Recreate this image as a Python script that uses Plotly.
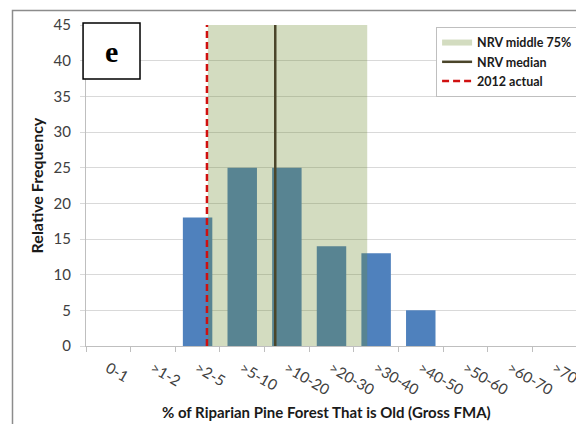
import plotly.graph_objects as go

categories = ["0-1", ">1-2", ">2-5", ">5-10", ">10-20", ">20-30", ">30-40",
              ">40-50", ">50-60", ">60-70", ">70"]
frequency = [0, 0, 18, 25, 25, 14, 13, 5, 0, 0, 0]
# NRV range and markers, in category-index units
nrv_low = 2.23
nrv_high = 5.80
nrv_median = 3.74
actual_2012 = 2.21
y_ticks = [0, 5, 10, 15, 20, 25, 30, 35, 40, 45]

FONT = "Lato"
idx = list(range(len(categories)))

fig = go.Figure()
fig.add_trace(go.Bar(x=idx, y=frequency, width=0.66, marker_color="#4F81BD",
                     marker_line_width=0, showlegend=False, hoverinfo="skip"))
fig.add_trace(go.Scatter(x=[nrv_low, nrv_high, nrv_high, nrv_low, nrv_low],
                         y=[0, 0, 45, 45, 0], fill="toself", mode="none",
                         fillcolor="rgba(108,138,45,0.30)", name="NRV middle 75%"))
fig.add_trace(go.Scatter(x=[nrv_median, nrv_median], y=[0, 45], mode="lines",
                         line=dict(color="#4A452A", width=2.5), name="NRV median"))
fig.add_trace(go.Scatter(x=[actual_2012, actual_2012], y=[0, 45], mode="lines",
                         line=dict(color="#D01010", width=2.5, dash="7px,4px"),
                         name="2012 actual"))

# page body has an 8px margin, so the figure is offset by (8, 8)
fig.update_layout(
    width=576, height=416,
    margin=dict(l=78, r=7, t=17, b=78, autoexpand=False),
    paper_bgcolor="white", plot_bgcolor="white",
    font=dict(family=FONT, color="#404040"),
    bargap=0.34,
    legend=dict(x=0.713, y=0.994, xanchor="left", yanchor="top",
                bgcolor="white", bordercolor="#BFBFBF", borderwidth=1,
                font=dict(family=FONT, size=12.5, color="#1a1a1a", weight="bold"),
                tracegroupgap=0, itemwidth=30),
    xaxis=dict(range=[-0.5, 10.5], tickmode="array", tickvals=idx, ticktext=categories,
               tickangle=30, ticks="", showgrid=False, zeroline=False,
               showline=True, linecolor="#BFBFBF", linewidth=1, ticklabelstandoff=7,
               tickfont=dict(family=FONT, size=15, color="#404040"),
               minor=dict(tick0=-0.5, dtick=1, ticks="outside", ticklen=5,
                          tickcolor="#BFBFBF", showgrid=False)),
    yaxis=dict(range=[0, 45], tickmode="array", tickvals=y_ticks,
               showgrid=True, gridcolor="#D9D9D9", gridwidth=1, zeroline=False,
               showline=True, linecolor="#BFBFBF", linewidth=1,
               ticks="outside", ticklen=5, tickcolor="#D9D9D9", ticklabelstandoff=6,
               tickfont=dict(family=FONT, size=15, color="#404040")),
)

fig.add_annotation(text="Relative Frequency", xref="paper", yref="paper",
                   x=-0.1, y=0.5, xanchor="center", yanchor="middle",
                   textangle=-90, showarrow=False,
                   font=dict(family=FONT, size=16, color="#1a1a1a", weight="bold"))
fig.add_annotation(text="% of Riparian Pine Forest That is Old (Gross FMA)",
                   xref="paper", yref="paper", x=0.49, y=-0.205,
                   xanchor="center", yanchor="middle", showarrow=False,
                   font=dict(family=FONT, size=15, color="#1a1a1a", weight="bold"))

# panel label box
fig.add_shape(type="rect", xref="paper", yref="paper",
              x0=-0.006, x1=0.110, y0=0.832, y1=1.006,
              line=dict(color="black", width=1.5), fillcolor="white", layer="above")
fig.add_annotation(text="<b>e</b>", xref="paper", yref="paper", x=0.052, y=0.917,
                   xanchor="center", yanchor="middle", showarrow=False,
                   font=dict(family="Liberation Serif", size=30, color="black"))

# outer chart border
fig.add_shape(type="rect", xref="paper", yref="paper",
              x0=-0.1497, x1=1.05, y0=-0.35, y1=1.045,
              line=dict(color="#8C8C8C", width=1.5), fillcolor="rgba(0,0,0,0)")

fig.write_html("out.html")
